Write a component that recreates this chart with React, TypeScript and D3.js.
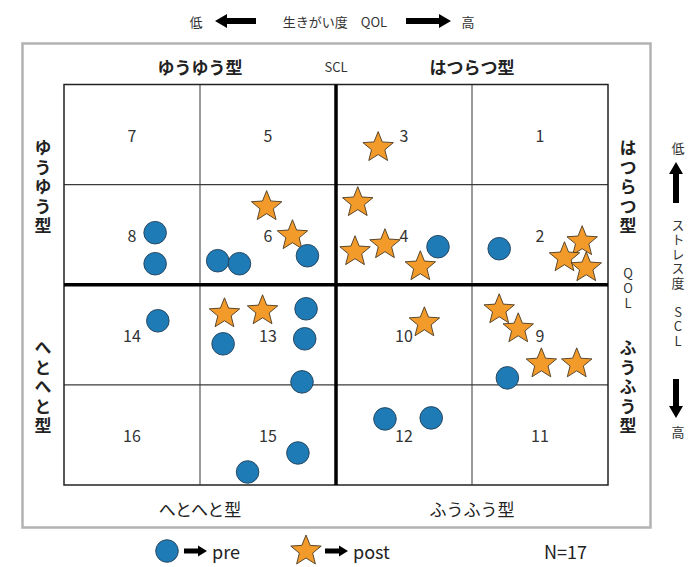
import * as d3 from 'd3'
import { useEffect, useRef } from 'react'

// QOL on x (0 = low, 4 = high), SCL on y (0 = low stress at top, 4 = high at bottom)
const preQol = [0.67, 0.67, 1.13, 1.29, 1.79, 2.75, 3.2, 0.69, 1.17, 1.78, 1.77, 1.75, 1.72, 1.35, 3.26, 2.36, 2.7]
const preScl = [1.48, 1.79, 1.76, 1.79, 1.71, 1.62, 1.64, 2.36, 2.59, 2.24, 2.54, 2.97, 3.68, 3.87, 2.93, 3.34, 3.33]
const postQol = [1.49, 1.68, 2.31, 2.16, 2.14, 2.36, 2.62, 3.81, 3.68, 3.84, 1.18, 1.46, 2.65, 3.2, 3.34, 3.51, 3.77]
const postScl = [1.22, 1.51, 0.63, 1.18, 1.67, 1.6, 1.82, 1.57, 1.73, 1.83, 2.29, 2.26, 2.38, 2.25, 2.44, 2.79, 2.79]

const cellNumbers = [
  [7, 5, 3, 1],
  [8, 6, 4, 2],
  [14, 13, 10, 9],
  [16, 15, 12, 11],
]
const topTypes = ['ゆうゆう型', 'はつらつ型']
const bottomTypes = ['へとへと型', 'ふうふう型']
const leftTypes = ['ゆうゆう型', 'へとへと型']
const rightTypes = ['はつらつ型', 'ふうふう型']

const FONT = "'Noto Sans CJK JP', 'Noto Sans', sans-serif"
const BLUE = '#1f7bb6'
const ORANGE = '#f29b2a'

function starPath(cx: number, cy: number, R: number, r: number){
  const pts: [number, number][] = []
  for(let i=0;i<10;i++){
    const a = -Math.PI/2 + i*Math.PI/5
    const rad = i%2===0 ? R : r
    pts.push([cx + rad*Math.cos(a), cy + rad*Math.sin(a)])
  }
  return d3.line()(pts)! + 'Z'
}

// block arrow from (x1,y1) to tip (x2,y2)
function arrowPath(x1: number, y1: number, x2: number, y2: number, shaft: number, headW: number, headL: number){
  const dx = x2-x1, dy = y2-y1
  const len = Math.hypot(dx, dy)
  const ux = dx/len, uy = dy/len
  const nx = -uy, ny = ux
  const bx = x2 - ux*headL, by = y2 - uy*headL
  const p: [number, number][] = [
    [x1 + nx*shaft/2, y1 + ny*shaft/2],
    [bx + nx*shaft/2, by + ny*shaft/2],
    [bx + nx*headW/2, by + ny*headW/2],
    [x2, y2],
    [bx - nx*headW/2, by - ny*headW/2],
    [bx - nx*shaft/2, by - ny*shaft/2],
    [x1 - nx*shaft/2, y1 - ny*shaft/2],
  ]
  return d3.line()(p)! + 'Z'
}

export default function App(){
  const svgRef = useRef<SVGSVGElement|null>(null)
  const width = 697, height = 567

  useEffect(()=>{
    const svg = d3.select(svgRef.current)
    svg.selectAll('*').remove()
    svg.attr('font-family', FONT)

    const x = d3.scaleLinear().domain([0, 4]).range([64, 608])
    const y = d3.scaleLinear().domain([0, 4]).range([84.5, 485])

    // outer frame
    svg.append('rect')
      .attr('x', 22.5).attr('y', 43.5).attr('width', 628).attr('height', 484)
      .attr('fill', 'white').attr('stroke', '#b3b3b3').attr('stroke-width', 2.5)

    // grid
    const g = svg.append('g')
    g.append('g').selectAll('line.v')
      .data([1, 3])
      .join('line')
      .attr('x1', d=>x(d)).attr('x2', d=>x(d)).attr('y1', y(0)).attr('y2', y(4))
      .attr('stroke', '#7a7a7a').attr('stroke-width', 1.5)
    g.append('g').selectAll('line.h')
      .data([1, 3])
      .join('line')
      .attr('y1', d=>y(d)).attr('y2', d=>y(d)).attr('x1', x(0)).attr('x2', x(4))
      .attr('stroke', '#3a3a3a').attr('stroke-width', 1.3)
    g.append('rect')
      .attr('x', x(0)).attr('y', y(0)).attr('width', x(4)-x(0)).attr('height', y(4)-y(0))
      .attr('fill', 'none').attr('stroke', '#222').attr('stroke-width', 1.5)
    g.append('line').attr('x1', x(2)).attr('x2', x(2)).attr('y1', y(0)).attr('y2', y(4))
      .attr('stroke', '#000').attr('stroke-width', 3.5)
    g.append('line').attr('y1', y(2)).attr('y2', y(2)).attr('x1', x(0)).attr('x2', x(4))
      .attr('stroke', '#000').attr('stroke-width', 3.5)

    // cell numbers
    const cells = cellNumbers.flatMap((row, ri)=> row.map((n, ci)=> ({ n, ri, ci })))
    g.append('g').selectAll('text')
      .data(cells)
      .join('text')
      .attr('x', d=>x(d.ci+0.5)).attr('y', d=>y(d.ri+0.5))
      .attr('text-anchor', 'middle').attr('dominant-baseline', 'central')
      .attr('font-size', 16).attr('fill', '#333')
      .text(d=>d.n)

    // type labels top / bottom
    svg.append('g').selectAll('text')
      .data(topTypes)
      .join('text')
      .attr('x', (_, i)=>x(i*2+1)).attr('y', 66)
      .attr('text-anchor', 'middle').attr('dominant-baseline', 'central')
      .attr('font-size', 17).attr('font-weight', 'bold').attr('fill', '#222')
      .text(d=>d)
    svg.append('text').attr('x', x(2)).attr('y', 66)
      .attr('text-anchor', 'middle').attr('dominant-baseline', 'central')
      .attr('font-size', 13).attr('fill', '#333').text('SCL')
    svg.append('g').selectAll('text')
      .data(bottomTypes)
      .join('text')
      .attr('x', (_, i)=>x(i*2+1)).attr('y', 508)
      .attr('text-anchor', 'middle').attr('dominant-baseline', 'central')
      .attr('font-size', 17).attr('fill', '#222')
      .text(d=>d)

    // vertical text as one element, upright glyphs
    const vtext = (str: string, cx: number, cy: number, spacing: number, size: number, weight: string, color: string)=>{
      svg.append('text')
        .attr('x', cx).attr('y', cy + spacing/2)
        .attr('text-anchor', 'middle')
        .attr('font-size', size).attr('font-weight', weight).attr('fill', color)
        .style('writing-mode', 'vertical-rl')
        .style('text-orientation', 'upright')
        .style('letter-spacing', `${spacing}px`)
        .text(str)
    }
    leftTypes.forEach((t, i)=> vtext(t, 43, y(i*2+1)+2, 2.5, 17, '600', '#222'))
    rightTypes.forEach((t, i)=> vtext(t, 628, y(i*2+1)+2, 2.5, 17, 'bold', '#222'))
    vtext('QOL', 628, y(2)+3, 2, 13, 'normal', '#333')

    // right axis: stress
    vtext('低', 678, 148, 0, 13, 'normal', '#333')
    svg.append('path').attr('d', arrowPath(676, 203, 676, 162, 6, 14, 12)).attr('fill', '#000')
    vtext('ストレス度　SCL', 678, 283, 1.5, 13, 'normal', '#333')
    svg.append('path').attr('d', arrowPath(676, 379, 676, 418, 6, 14, 12)).attr('fill', '#000')
    vtext('高', 678, 432, 0, 13, 'normal', '#333')

    // top axis: QOL
    svg.append('text').attr('x', 196).attr('y', 21)
      .attr('text-anchor', 'middle').attr('dominant-baseline', 'central')
      .attr('font-size', 13).attr('fill', '#333').text('低')
    svg.append('path').attr('d', arrowPath(256, 21, 215, 21, 6, 14, 12)).attr('fill', '#000')
    svg.append('text').attr('x', 335).attr('y', 21)
      .attr('text-anchor', 'middle').attr('dominant-baseline', 'central')
      .attr('font-size', 13).attr('fill', '#333').text('生きがい度　QOL')
    svg.append('path').attr('d', arrowPath(406, 21, 451, 21, 6, 14, 12)).attr('fill', '#000')
    svg.append('text').attr('x', 468).attr('y', 21)
      .attr('text-anchor', 'middle').attr('dominant-baseline', 'central')
      .attr('font-size', 13).attr('fill', '#333').text('高')

    // points: post stars, then pre circles
    const post = postQol.map((q, i)=> ({ q, s: postScl[i] }))
    const pre = preQol.map((q, i)=> ({ q, s: preScl[i] }))
    svg.append('g').selectAll('path')
      .data(post)
      .join('path')
      .attr('d', d=>starPath(x(d.q), y(d.s), 16, 7))
      .attr('fill', ORANGE).attr('stroke', '#4a3a22').attr('stroke-width', 0.9)
    svg.append('g').selectAll('circle')
      .data(pre)
      .join('circle')
      .attr('cx', d=>x(d.q)).attr('cy', d=>y(d.s)).attr('r', 11.3)
      .attr('fill', BLUE).attr('stroke', '#233f57').attr('stroke-width', 0.9)

    // legend
    const ly = 551
    svg.append('circle').attr('cx', 167).attr('cy', ly).attr('r', 11.3)
      .attr('fill', BLUE).attr('stroke', '#233f57').attr('stroke-width', 0.9)
    svg.append('path').attr('d', arrowPath(184, ly, 207, ly, 5, 11, 9)).attr('fill', '#000')
    svg.append('text').attr('x', 212).attr('y', ly).attr('dominant-baseline', 'central')
      .attr('font-size', 18).attr('fill', '#222').text('pre')
    svg.append('path').attr('d', starPath(306, ly, 16, 7))
      .attr('fill', ORANGE).attr('stroke', '#4a3a22').attr('stroke-width', 0.9)
    svg.append('path').attr('d', arrowPath(325, ly, 348, ly, 5, 11, 9)).attr('fill', '#000')
    svg.append('text').attr('x', 353).attr('y', ly).attr('dominant-baseline', 'central')
      .attr('font-size', 18).attr('fill', '#222').text('post')
    svg.append('text').attr('x', 544).attr('y', ly).attr('dominant-baseline', 'central')
      .attr('font-size', 18).attr('fill', '#222').text('N=17')
  }, [])

  return (
    <svg ref={svgRef} width={width} height={height}
      style={{ position: 'absolute', left: 0, top: 0, display: 'block', background: 'white' }} />
  )
}
